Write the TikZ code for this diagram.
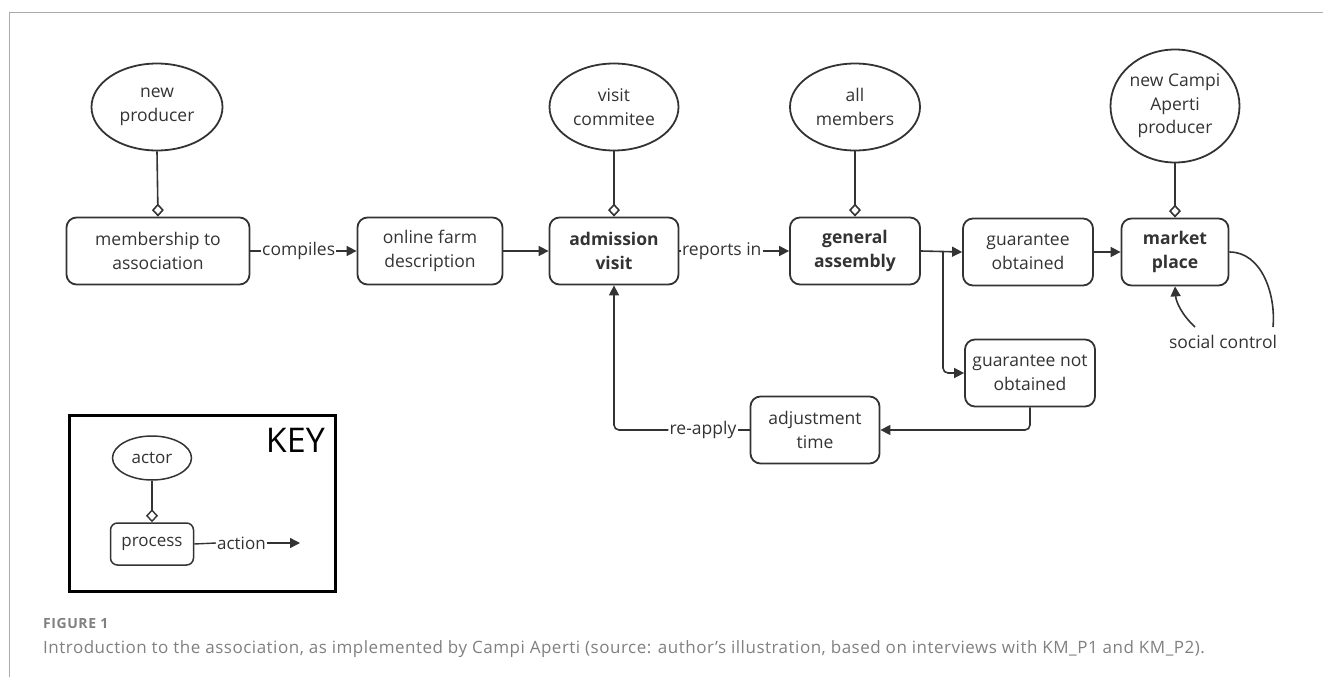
\documentclass[tikz,border=0pt]{standalone}
\usepackage{fontspec}
\setmainfont{Open Sans}
\newfontfamily\capfont{Open Sans}[LetterSpace=3]
\newfontfamily\figfont{Open Sans}[LetterSpace=4]
\usetikzlibrary{shapes.geometric,arrows.meta,calc}
\definecolor{ink}{HTML}{333333}
\definecolor{framegray}{HTML}{AAAAAA}
\definecolor{capgray}{HTML}{808080}
\begin{document}
\begin{tikzpicture}[x=1pt,y=-1pt,
  every node/.style={text=ink, font=\fontsize{17.5}{23.5}\selectfont},
  proc/.style={draw=ink, line width=1.8pt, rounded corners=10pt, minimum height=67pt, align=center, inner sep=0pt},
  bold/.style={font=\fontsize{17.5}{23.5}\selectfont\bfseries},
  actor/.style={draw=ink, line width=1.8pt, ellipse, minimum width=131pt, minimum height=87pt, align=center, inner sep=0pt},
  arr/.style={draw=ink, line width=1.6pt, -{Triangle[length=10pt,width=10pt]}},
  link/.style={draw=ink, line width=1.6pt},
  own/.style={draw=ink, line width=1.6pt, -{Diamond[open,length=13pt,width=12pt]}},
  lbl/.style={inner sep=1pt},
  small/.style={font=\fontsize{17}{20}\selectfont},
]
\useasboundingbox (0,0) rectangle (1323,677);
\draw[framegray, line width=1pt] (9,677) -- (9,13) -- (1323,13);

% actors
\node[actor] (np) at (157,107) {new\\producer};
\node[actor, minimum width=129pt] (vc) at (614,107) {visit\\commitee};
\node[actor, minimum width=130pt] (am) at (855,107) {all\\members};
\node[actor, minimum width=129pt, minimum height=113pt] (nca) at (1175,106) {new Campi\\Aperti\\producer};

% processes
\node[proc, minimum width=183pt] (mem) at (158,251) {membership to\\association};
\node[proc, minimum width=145pt] (ofd) at (430,251) {online farm\\description};
\node[proc, minimum width=129pt, bold] (av) at (614,251) {admission\\visit};
\node[proc, minimum width=130pt, bold] (ga) at (855,251) {general\\assembly};
\node[proc, minimum width=130pt] (go) at (1028,252) {guarantee\\obtained};
\node[proc, minimum width=107pt, bold] (mp) at (1175,252) {market\\place};
\node[proc, minimum width=130pt] (gno) at (1030,373) {guarantee not\\obtained};
\node[proc, minimum width=129pt] (adj) at (815,430) {adjustment\\time};

% actor links
\draw[own] (np.south) -- (mem.north);
\draw[own] (vc.south) -- (av.north);
\draw[own] (am.south) -- (ga.north);
\draw[own] (nca.south) -- (mp.north);

% flow
\node[lbl, anchor=west] (compiles) at (261,251) {compiles};
\draw[link] (mem.east) -- (compiles.west);
\draw[arr] (compiles.east) -- (ofd.west);
\draw[arr] (ofd.east) -- (av.west);
\node[lbl, anchor=west] (rep) at (681,251) {reports in};
\draw[link] (av.east) -- (rep.west);
\draw[arr] (rep.east) -- (ga.west);
\draw[arr] (ga.east) -- (go.west);
\coordinate (br) at (943,251);
\draw[arr, rounded corners=5pt] (br) |- (gno.west);
\draw[arr] (go.east) -- (mp.west);
\draw[arr, rounded corners=5pt] (gno.south) |- (adj.east);
\node[lbl] (reap) at (703,430) {re-apply};
\draw[link] (adj.west) -- (reap.east);
\draw[arr, rounded corners=5pt] (reap.west) -| (av.south);

% social control
\node[lbl] (sc) at (1223,342) {social control};
\coordinate (sc1) at (1273,327);
\coordinate (sc2) at (1195,327);
\draw[link] (mp.east) .. controls (1262,252) and (1276,295) .. (sc1);
\draw[arr] (sc2) .. controls (1182,315) and (1176,302) .. (mp.south);

% key
\node[draw=black, line width=3pt, minimum width=266pt, minimum height=176pt, inner sep=0pt] (key) at (202,503) {};
\node[anchor=base east, inner sep=0pt, text=black, font=\fontsize{34}{34}\selectfont] (keyt) at (325,452) {KEY};
\node[actor, minimum width=79pt, minimum height=44pt, line width=1.5pt, small] (ka) at (152,458) {actor};
\node[proc, minimum width=83pt, minimum height=42pt, rounded corners=7pt, line width=1.5pt, small] (kp) at (152,544) {process};
\draw[own, line width=1.4pt] (ka.south) -- (kp.north);
\node[lbl, anchor=west, small] (kact) at (216,543) {action};
\coordinate (kend) at (300,543);
\draw[link, line width=1.4pt] (kp.east) -- (kact.west);
\draw[arr, line width=1.4pt] (kact.east) -- (kend);

% caption
\node[anchor=base west, inner sep=0pt, text=capgray, font=\figfont\bfseries\fontsize{14}{14}\selectfont] (fig) at (43,628) {FIGURE 1};
\node[anchor=base west, inner sep=0pt, text=capgray, font=\capfont\fontsize{17}{17}\selectfont] (cap) at (43,653) {Introduction to the association, as implemented by Campi Aperti (source: author’s illustration, based on interviews with KM\_P1 and KM\_P2).};
\end{tikzpicture}
\end{document}
